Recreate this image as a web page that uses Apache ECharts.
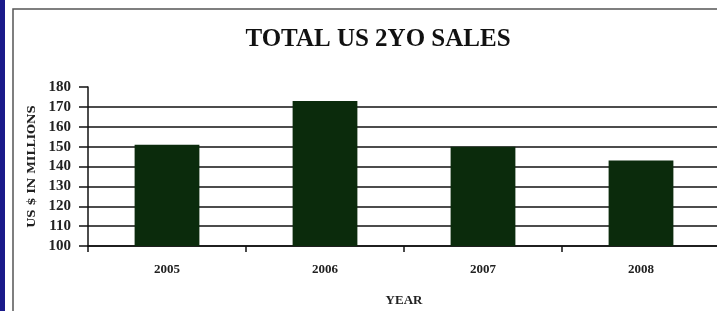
<!DOCTYPE html>
<html><head><meta charset="utf-8">
<script src="https://cdn.jsdelivr.net/npm/echarts@6/dist/echarts.min.js"></script>
<style>html,body{margin:0;padding:0;background:#fff}#c{width:717px;height:311px}</style>
</head><body><div id="c"></div>
<script>
const categories = ['2005', '2006', '2007', '2008'];
const sales = [151, 173, 150, 143];
const yTicks = [100, 110, 120, 130, 140, 150, 160, 170, 180];
const titleText = 'TOTAL US 2YO SALES';
const yName = 'US $ IN MILLIONS';
const xName = 'YEAR';

const chart = echarts.init(document.getElementById('c'));
const serif = '"Liberation Serif", "DejaVu Serif", serif';
chart.setOption({
  animation: false,
  title: {text: titleText, left: 373, top: 22, textAlign: 'center',
    textStyle: {fontFamily: serif, fontWeight: 'bold', fontSize: 25, color: '#111'}},
  graphic: [
    {type: 'rect', shape: {x: 0, y: 0, width: 5, height: 311}, style: {fill: '#1a1a8a'}, z: 10},
    {type: 'rect', shape: {x: 13, y: 9, width: 720, height: 320}, style: {fill: 'none', stroke: '#555', lineWidth: 1.5}, z: 10}
  ],
  grid: {left: 88, right: -3, top: 87, bottom: 65, outerBoundsMode: 'none'},
  xAxis: {type: 'category', data: categories, name: xName, nameLocation: 'middle', nameGap: 48,
    nameTextStyle: {fontFamily: serif, fontWeight: 'bold', fontSize: 13, color: '#222'},
    axisLine: {lineStyle: {color: '#111', width: 1.5}},
    axisTick: {show: true, length: 6, lineStyle: {color: '#111', width: 1.5}},
    axisLabel: {fontFamily: serif, fontWeight: 'bold', fontSize: 13, color: '#222', margin: 17}},
  yAxis: {type: 'value', min: yTicks[0], max: yTicks[yTicks.length - 1], interval: 10,
    name: yName, nameLocation: 'middle', nameRotate: 90, nameGap: 50,
    nameTextStyle: {fontFamily: '"DejaVu Serif", serif', fontWeight: 'bold', fontSize: 11.5, color: '#222'},
    axisLine: {show: true, lineStyle: {color: '#111', width: 1.5}},
    axisTick: {show: true, length: 9, lineStyle: {color: '#111', width: 1.5}},
    axisLabel: {fontFamily: serif, fontWeight: 'bold', fontSize: 15, color: '#222', margin: 17},
    splitLine: {show: true, showMaxLine: false, lineStyle: {color: '#111', width: 1.5}}},
  series: [{type: 'bar', data: sales, barWidth: '41%', itemStyle: {color: '#0b2b0c'}}]
});
</script></body></html>
